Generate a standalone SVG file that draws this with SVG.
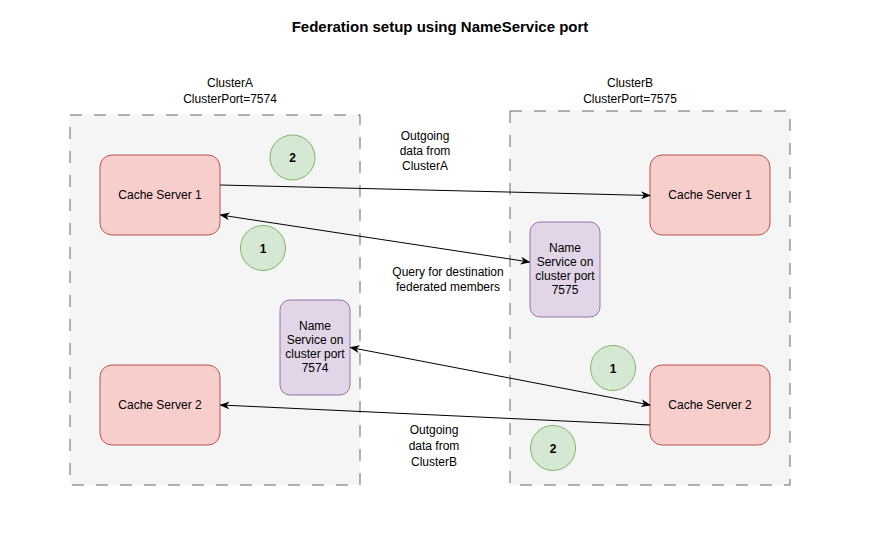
<svg xmlns="http://www.w3.org/2000/svg" width="870" height="555" viewBox="0 0 870 555">
<defs>
<style>
text{font-family:"Liberation Sans",Arial,sans-serif;font-size:12px;fill:#000;text-anchor:middle}
.title{font-size:15px;font-weight:bold}
.cluster{fill:#f5f5f5;stroke:#666666;stroke-dasharray:12 12}
.cs{fill:#f8cecc;stroke:#b85450}
.ns{fill:#e1d5e7;stroke:#9673a6}
.num{fill:#d5e8d4;stroke:#82b366}
.b{font-weight:bold}
.edge{stroke:#000;stroke-width:1;fill:none}
</style>
<marker id="ah" viewBox="0 0 10 8" refX="9" refY="4" markerWidth="10" markerHeight="8" markerUnits="userSpaceOnUse" orient="auto-start-reverse">
<path d="M0,0 L10,4 L0,8 L3,4 Z" fill="#000"/>
</marker>
</defs>
<rect width="870" height="555" fill="#fff"/>
<text class="title" x="440" y="32">Federation setup using NameService port</text>

<g id="clusterA">
<path class="cluster" d="M70,115 H360 V485 H70 Z"/>
<text x="230" y="87">ClusterA</text>
<text x="230" y="103">ClusterPort=7574</text>
</g>
<g id="clusterB">
<path class="cluster" d="M510,111 H790 V485 H510 Z"/>
<text x="630" y="87">ClusterB</text>
<text x="630" y="103">ClusterPort=7575</text>
</g>

<g id="csA1"><rect class="cs" x="100" y="155" width="120" height="80" rx="12"/><text x="160" y="199">Cache Server 1</text></g>
<g id="csA2"><rect class="cs" x="100" y="365" width="120" height="80" rx="12"/><text x="160" y="409">Cache Server 2</text></g>
<g id="csB1"><rect class="cs" x="650" y="155" width="120" height="80" rx="12"/><text x="710" y="199">Cache Server 1</text></g>
<g id="csB2"><rect class="cs" x="650" y="365" width="120" height="80" rx="12"/><text x="710" y="409">Cache Server 2</text></g>

<g id="nsA"><rect class="ns" x="280" y="300" width="70" height="95" rx="10"/>
<text x="315" y="330">Name</text><text x="315" y="344">Service on</text><text x="315" y="358">cluster port</text><text x="315" y="372">7574</text></g>
<g id="nsB"><rect class="ns" x="530" y="222" width="70" height="95" rx="10"/>
<text x="565" y="252">Name</text><text x="565" y="266">Service on</text><text x="565" y="280">cluster port</text><text x="565" y="294">7575</text></g>

<g id="stepA2"><circle class="num" cx="292.5" cy="157.5" r="22.5"/><text class="b" x="292.5" y="162">2</text></g>
<g id="stepA1"><circle class="num" cx="263" cy="248" r="22.5"/><text class="b" x="263" y="252.5">1</text></g>
<g id="stepB1"><circle class="num" cx="613" cy="368" r="22.5"/><text class="b" x="613" y="372.5">1</text></g>
<g id="stepB2"><circle class="num" cx="553" cy="448" r="22.5"/><text class="b" x="553" y="452.5">2</text></g>

<g id="connectors">
<path class="edge" d="M220,185 L650,195.5" marker-end="url(#ah)"/>
<path class="edge" d="M220.5,215 L529.5,262" marker-start="url(#ah)" marker-end="url(#ah)"/>
<path class="edge" d="M350.5,347.5 L650,405" marker-start="url(#ah)" marker-end="url(#ah)"/>
<path class="edge" d="M650,425 L220.5,405" marker-end="url(#ah)"/>
</g>

<g id="labels">
<text x="425" y="140">Outgoing</text><text x="425" y="155">data from</text><text x="425" y="170">ClusterA</text>
<text x="448" y="276">Query for destination</text><text x="448" y="291">federated members</text>
<text x="434" y="434">Outgoing</text><text x="434" y="450">data from</text><text x="434" y="466">ClusterB</text>
</g>
</svg>
